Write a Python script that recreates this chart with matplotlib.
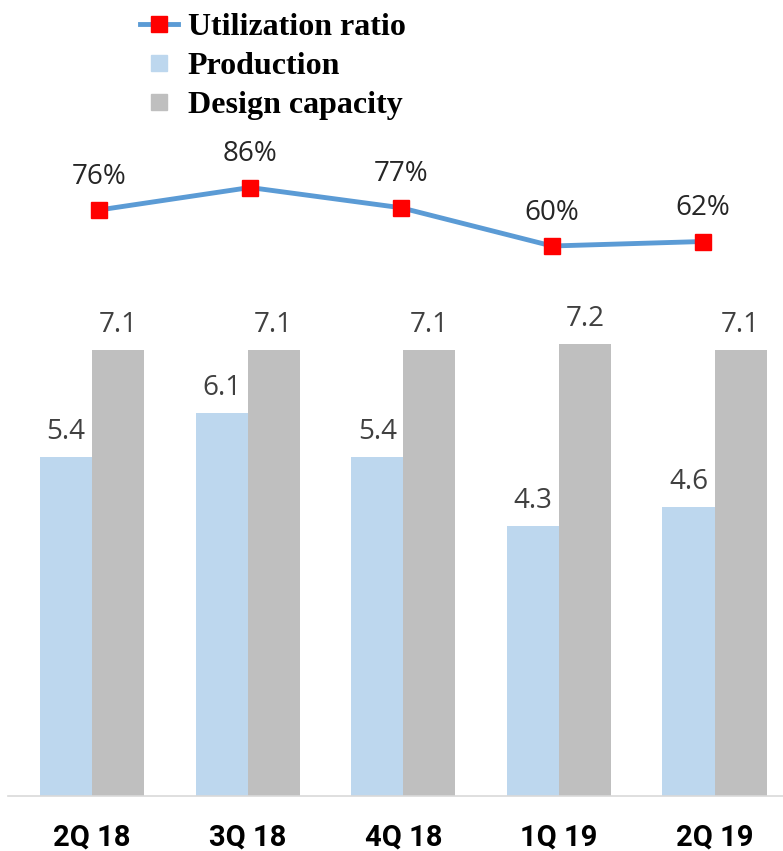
import matplotlib
matplotlib.use("Agg")
import matplotlib.pyplot as plt
from matplotlib.lines import Line2D
import numpy as np

quarters = ["2Q 18", "3Q 18", "4Q 18", "1Q 19", "2Q 19"]
production = [5.4, 6.1, 5.4, 4.3, 4.6]
capacity = [7.1, 7.1, 7.1, 7.2, 7.1]
utilization = [76, 86, 77, 60, 62]

blue_bar = "#BDD7EE"
grey_bar = "#BFBFBF"
line_col = "#5B9BD5"
txt_col = "#404040"

W, H = 783, 851
fig = plt.figure(figsize=(W / 100, H / 100), dpi=100)

# bar axes: baseline at y=796 px, starts at x=8 px
base = (H - 796) / H
ax = fig.add_axes([8 / W, base, 1 - 8 / W, 1 - base])
x = np.arange(len(quarters))
bw = 0.335
ax.bar(x - bw / 2, production, bw, color=blue_bar)
ax.bar(x + bw / 2, capacity, bw, color=grey_bar)
ax.set_xlim(-0.54, 4.44)
ax.set_ylim(0, 12.67)
for xi, p, c in zip(x, production, capacity):
    ax.annotate(f"{p:.1f}", (xi - bw / 2, p), xytext=(0, 13), textcoords="offset points",
                ha="center", va="baseline", fontsize=20, color=txt_col, family="Open Sans")
    ax.annotate(f"{c:.1f}", (xi + bw / 2, c), xytext=(0, 13), textcoords="offset points",
                ha="center", va="baseline", fontsize=20, color=txt_col, family="Open Sans")
for s in ["top", "right", "left"]:
    ax.spines[s].set_visible(False)
ax.spines["bottom"].set_color("#D9D9D9")
ax.spines["bottom"].set_linewidth(1.2)
ax.set_yticks([])
ax.set_xticks(x)
ax.set_xticklabels(quarters, fontsize=21, fontweight="bold", family="Roboto")
ax.tick_params(axis="x", length=0, pad=20)

# line axes, own x scale
lax = fig.add_axes([0, base, 1, 1 - base])
lax.set_xlim(-99 / 151, (W - 99) / 151)
lax.set_ylim(-415 / 2.25, (796 - 415) / 2.25)
lax.plot(x, utilization, color=line_col, lw=3.5, marker="s", ms=11,
         mfc="red", mec="red", zorder=3)
for xi, u in zip(x, utilization):
    lax.annotate(f"{u}%", (xi, u), xytext=(0, 19), textcoords="offset points",
                 ha="center", va="baseline", fontsize=20, color="#262626", family="Open Sans")
lax.axis("off")

handles = [
    Line2D([], [], color=line_col, lw=3.5, marker="s", ms=12, mfc="red", mec="red"),
    Line2D([], [], ls="none", marker="s", ms=12, mfc=blue_bar, mec=blue_bar),
    Line2D([], [], ls="none", marker="s", ms=12, mfc=grey_bar, mec=grey_bar),
]
leg = fig.legend(handles, ["Utilization ratio", "Production", "Design capacity"],
                 loc="upper left", bbox_to_anchor=(140 / W, 1 - 13 / H), frameon=False,
                 prop={"family": "Liberation Serif", "weight": "bold", "size": 23},
                 handlelength=1.2, handletextpad=0.3, labelspacing=0.3, borderpad=0,
                 borderaxespad=0)

fig.savefig("out.png", dpi=100)
